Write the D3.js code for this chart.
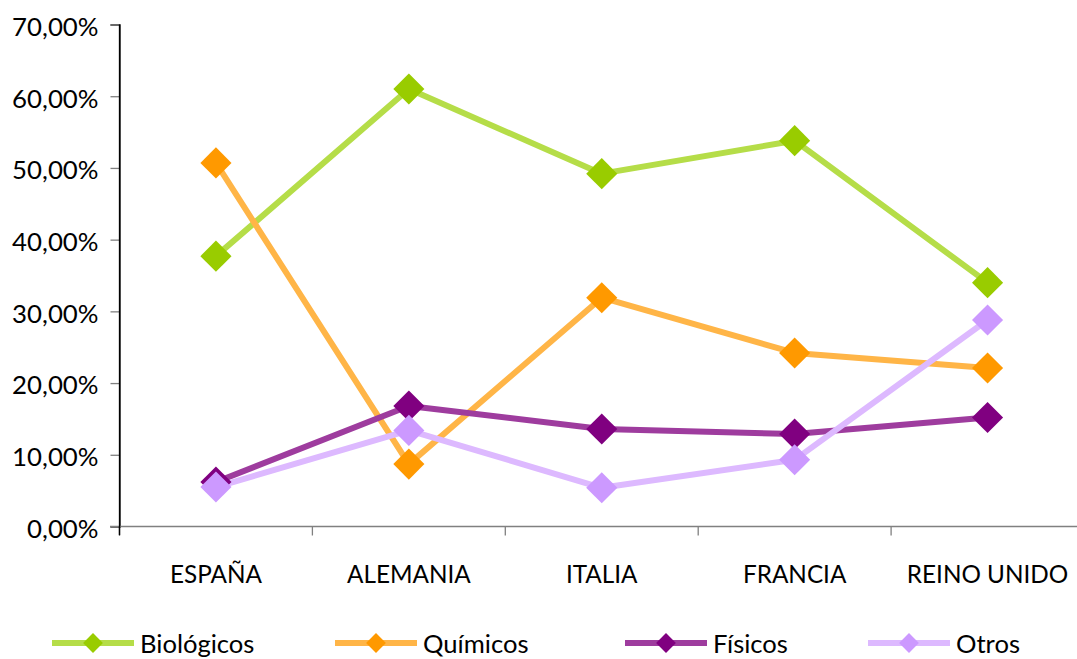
<!DOCTYPE html>
<html><head><meta charset="utf-8">
<script src="https://cdn.jsdelivr.net/npm/d3@7"></script>
<style>body{margin:0;background:#fff}svg{display:block}text{font-family:Lato,"Open Sans",sans-serif;fill:#000}</style>
</head><body><svg id="c" width="1077" height="659"></svg>
<script>
const categories = ["ESPAÑA","ALEMANIA","ITALIA","FRANCIA","REINO UNIDO"];
const biologicos = [37.7, 61.0, 49.2, 53.8, 34.0];
const quimicos   = [50.7, 8.7, 31.9, 24.2, 22.1];
const fisicos    = [6.2, 16.8, 13.6, 12.9, 15.2];
const otros      = [5.5, 13.4, 5.4, 9.3, 28.8];
const seriesNames = ["Biológicos","Químicos","Físicos","Otros"];
const yTicks = [0,10,20,30,40,50,60,70];

const series = [
  {name: seriesNames[0], values: biologicos, line:"#B5DD48", marker:"#99CC00"},
  {name: seriesNames[1], values: quimicos,   line:"#FFB547", marker:"#FF9900"},
  {name: seriesNames[2], values: fisicos,    line:"#9E3C9E", marker:"#800080"},
  {name: seriesNames[3], values: otros,      line:"#DDB9FF", marker:"#CC99FF"}
];

const svg = d3.select("#c");
const x = d3.scaleBand().domain(categories).range([119.5, 1084]).padding(0);
const y = d3.scaleLinear().domain([0,70]).range([526.5, 24.5]);
const cx = d => x(d) + x.bandwidth()/2;

// Y axis
const ya = svg.append("g").attr("transform","translate(119.5,0)")
  .call(d3.axisLeft(y).tickValues(yTicks).tickSize(9).tickPadding(12)
    .tickFormat(d => d.toFixed(2).replace(".", ",") + "%"));
ya.select(".domain").attr("stroke","#000").attr("stroke-width",1.3);
ya.selectAll(".tick line").attr("stroke","#808080").attr("stroke-width",1.3);
ya.selectAll(".tick text").style("font-size","25.8px").attr("dy","0.42em").attr("fill","#000");

// X axis
const xg = svg.append("g");
xg.append("line").attr("x1",110).attr("x2",x.range()[1]).attr("y1",y(0)).attr("y2",y(0))
  .attr("stroke","#808080").attr("stroke-width",1.5);
const edges = categories.map(c => x(c));
xg.selectAll("line.t").data(edges).join("line").attr("class","t")
  .attr("x1",d=>d).attr("x2",d=>d).attr("y1",y(0)).attr("y2",y(0)+9)
  .attr("stroke",(d,i)=> i===0 ? "#000" : "#808080").attr("stroke-width",1.3);
xg.selectAll("text").data(categories).join("text")
  .attr("x",d=>cx(d)).attr("y",583).attr("text-anchor","middle")
  .style("font-size","24.3px").text(d=>d);
svg.append("line").attr("x1",119.5).attr("x2",119.5).attr("y1",24.5).attr("y2",535)
  .attr("stroke","#000").attr("stroke-width",1.3);

const diamond = (s) => d3.symbol().type(d3.symbolSquare).size(s*s)();

const lineGen = d3.line().x((d,i)=>cx(categories[i])).y(d=>y(d));
series.forEach(s => {
  svg.append("path").datum(s.values).attr("d",lineGen).attr("fill","none")
    .attr("stroke",s.line).attr("stroke-width",6).attr("stroke-linejoin","round");
});
series.forEach(s => {
  svg.append("g").selectAll("path").data(s.values).join("path")
    .attr("d",diamond(22))
    .attr("transform",(d,i)=>`translate(${cx(categories[i])},${y(d)}) rotate(45)`)
    .attr("fill",s.marker);
});

// Legend
const legX = [52, 335, 625, 868];
const leg = svg.append("g");
series.forEach((s,i) => {
  const g = leg.append("g").attr("transform",`translate(${legX[i]},643)`);
  g.append("line").attr("x1",0).attr("x2",82).attr("y1",0).attr("y2",0)
    .attr("stroke",s.line).attr("stroke-width",6);
  g.append("path").attr("d",diamond(14)).attr("transform","translate(41,0) rotate(45)").attr("fill",s.marker);
  g.append("text").attr("x",88).attr("y",0).attr("dy","0.38em").style("font-size","25.6px").text(s.name);
});
</script></body></html>
